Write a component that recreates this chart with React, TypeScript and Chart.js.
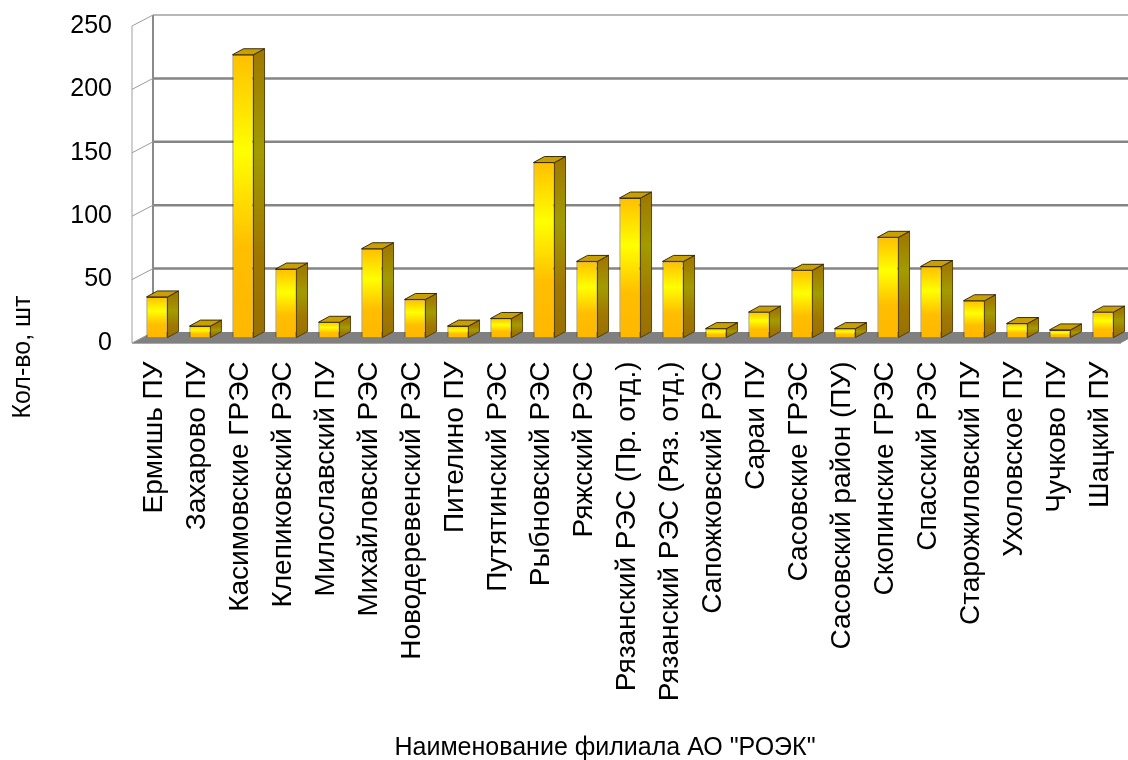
import React, { useEffect, useRef } from "react";
import { Chart, registerables } from "chart.js";

Chart.register(...registerables);

const categories = [
  "Ермишь ПУ",
  "Захарово ПУ",
  "Касимовские ГРЭС",
  "Клепиковский РЭС",
  "Милославский ПУ",
  "Михайловский РЭС",
  "Новодеревенский РЭС",
  "Пителино ПУ",
  "Путятинский РЭС",
  "Рыбновский РЭС",
  "Ряжский РЭС",
  "Рязанский РЭС (Пр. отд.)",
  "Рязанский РЭС (Ряз. отд.)",
  "Сапожковский РЭС",
  "Сараи ПУ",
  "Сасовские ГРЭС",
  "Сасовский район (ПУ)",
  "Скопинские ГРЭС",
  "Спасский РЭС",
  "Старожиловский ПУ",
  "Ухоловское ПУ",
  "Чучково ПУ",
  "Шацкий ПУ",
];

const values = [32, 9, 223, 54, 12, 70, 30, 9, 15, 138, 60, 110, 60, 7, 20, 53, 7, 79, 56, 29, 11, 6, 20];

const yTickValues = [0, 50, 100, 150, 200, 250];

const xTitle = 'Наименование филиала АО "РОЭК"';
const yTitle = "Кол-во, шт";

const FONT = "'Liberation Sans', Arial, sans-serif";

// bar depth
const BDX = 11;
const BDY = 6;
// wall offsets relative to chart area
const FRONT_DX = -3.5;
const BACK_DX = 17.5;
const PLANE_DY = 5.5;

const threeD = {
  id: "threeD",
  beforeDatasetsDraw(chart: any) {
    const { ctx, chartArea } = chart;
    const ys = chart.scales.y;
    const zero = ys.getPixelForValue(0);
    const L = chartArea.left;
    const R = chartArea.right;
    ctx.save();
    // floor
    ctx.beginPath();
    ctx.moveTo(L + FRONT_DX, zero + PLANE_DY);
    ctx.lineTo(R + FRONT_DX, zero + PLANE_DY);
    ctx.lineTo(R + BACK_DX, zero - PLANE_DY);
    ctx.lineTo(L + BACK_DX, zero - PLANE_DY);
    ctx.closePath();
    ctx.fillStyle = "#808080";
    ctx.fill();
    ctx.strokeStyle = "#a8a8a8";
    ctx.lineWidth = 1;
    ctx.beginPath();
    ctx.moveTo(L + FRONT_DX, zero + PLANE_DY + 0.5);
    ctx.lineTo(R + FRONT_DX, zero + PLANE_DY + 0.5);
    ctx.stroke();

    // back wall grid lines
    yTickValues.forEach((v) => {
      if (v === 0) return;
      const y = ys.getPixelForValue(v);
      ctx.beginPath();
      ctx.moveTo(L + BACK_DX, y - PLANE_DY);
      ctx.lineTo(R + BACK_DX + 20, y - PLANE_DY);
      if (v === 250) {
        ctx.strokeStyle = "#a0a0a0";
        ctx.lineWidth = 1.5;
      } else {
        ctx.strokeStyle = "#858585";
        ctx.lineWidth = 2.5;
      }
      ctx.stroke();
    });

    // left wall
    const top = ys.getPixelForValue(250);
    ctx.strokeStyle = "#8a8a8a";
    ctx.lineWidth = 2;
    ctx.beginPath();
    ctx.moveTo(L + BACK_DX, top - PLANE_DY);
    ctx.lineTo(L + BACK_DX, zero - PLANE_DY);
    ctx.stroke();
    ctx.strokeStyle = "#a0a0a0";
    ctx.lineWidth = 1;
    ctx.beginPath();
    ctx.moveTo(L + FRONT_DX, top + PLANE_DY);
    ctx.lineTo(L + FRONT_DX, zero + PLANE_DY);
    ctx.stroke();
    yTickValues.forEach((v) => {
      const y = ys.getPixelForValue(v);
      ctx.beginPath();
      ctx.moveTo(L + FRONT_DX, y + PLANE_DY);
      ctx.lineTo(L + BACK_DX, y - PLANE_DY);
      ctx.strokeStyle = "#9a9a9a";
      ctx.lineWidth = 1;
      ctx.stroke();
    });
    ctx.restore();
  },
  afterDatasetsDraw(chart: any) {
    const { ctx } = chart;
    const meta = chart.getDatasetMeta(0);
    ctx.save();
    meta.data.forEach((bar: any) => {
      const { x, y, base, width } = bar.getProps(["x", "y", "base", "width"], true);
      const l = x - width / 2;
      const r = x + width / 2;
      // side face
      const sg = ctx.createLinearGradient(0, y, 0, base);
      sg.addColorStop(0, "#a07a00");
      sg.addColorStop(0.34, "#a29c00");
      sg.addColorStop(0.7, "#a07800");
      sg.addColorStop(1, "#987000");
      ctx.beginPath();
      ctx.moveTo(r, y);
      ctx.lineTo(r + BDX, y - BDY);
      ctx.lineTo(r + BDX, base - BDY);
      ctx.lineTo(r, base);
      ctx.closePath();
      ctx.fillStyle = sg;
      ctx.fill();
      ctx.strokeStyle = "rgba(70,50,0,0.85)";
      ctx.lineWidth = 1;
      ctx.stroke();
      // top face
      ctx.beginPath();
      ctx.moveTo(l, y);
      ctx.lineTo(l + BDX, y - BDY);
      ctx.lineTo(r + BDX, y - BDY);
      ctx.lineTo(r, y);
      ctx.closePath();
      ctx.fillStyle = "#c9a000";
      ctx.fill();
      ctx.strokeStyle = "rgba(40,30,0,0.9)";
      ctx.stroke();
    });
    ctx.restore();

    // titles
    ctx.save();
    ctx.fillStyle = "#000";
    ctx.textAlign = "center";
    ctx.textBaseline = "middle";
    ctx.font = `25px ${FONT}`;
    ctx.fillText(xTitle, 605, 748);
    ctx.translate(23, 357);
    ctx.rotate(-Math.PI / 2);
    ctx.font = `25px ${FONT}`;
    ctx.fillText(yTitle, 0, 0);
    ctx.restore();
  },
};

export default function App() {
  const ref = useRef<HTMLCanvasElement | null>(null);
  useEffect(() => {
    document.body.style.margin = "0";
    const canvas = ref.current;
    if (!canvas) return;
    const chart = new Chart(canvas, {
      type: "bar",
      data: {
        labels: categories,
        datasets: [
          {
            data: values,
            backgroundColor: (c: any) => {
              const ch = c.chart;
              if (!ch.chartArea || c.dataIndex === undefined) return "#FFC000";
              const ys = ch.scales.y;
              const top = ys.getPixelForValue(values[c.dataIndex]);
              const base = ys.getPixelForValue(0);
              const g = ch.ctx.createLinearGradient(0, top, 0, base);
              g.addColorStop(0, "#FFBF00");
              g.addColorStop(0.34, "#FFFF00");
              g.addColorStop(0.68, "#FFBE00");
              g.addColorStop(1, "#FFB800");
              return g;
            },
            borderColor: "rgba(60,45,0,0.85)",
            borderWidth: 1,
            barPercentage: 0.49,
            categoryPercentage: 1,
          },
        ],
      },
      options: {
        responsive: false,
        animation: false,
        events: [],
        layout: { padding: { left: 0, right: 3.5, top: 20.5, bottom: 0 } },
        plugins: {
          legend: { display: false },
          title: { display: false },
          tooltip: { enabled: false },
        },
        scales: {
          x: {
            grid: { display: false },
            border: { display: false },
            ticks: {
              color: "#000",
              font: { family: FONT, size: 28 },
              minRotation: 90,
              maxRotation: 90,
              autoSkip: false,
              padding: 16,
              labelOffset: -3,
            },
            afterFit: (s: any) => {
              s.height = 760 - 337.5;
              s.paddingLeft = 0;
              s.paddingRight = 0;
            },
          },
          y: {
            min: 0,
            max: 250,
            grid: { display: false },
            border: { display: false },
            ticks: {
              color: "#000",
              font: { family: FONT, size: 25 },
              stepSize: 50,
              padding: 15.5,
              labelOffset: 5.5,
            },
            afterFit: (s: any) => {
              s.width = 135.5;
              s.paddingTop = 0;
              s.paddingBottom = 0;
            },
          },
        },
      },
      plugins: [threeD],
    });
    return () => chart.destroy();
  }, []);
  return <canvas ref={ref} width={1128} height={760} style={{ display: "block" }} />;
}
